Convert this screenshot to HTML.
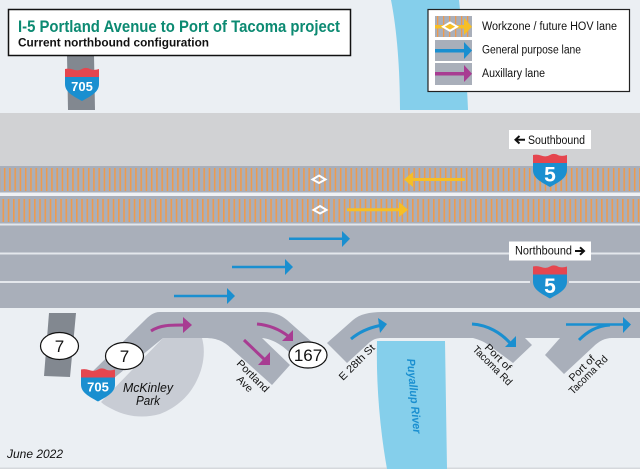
<!DOCTYPE html>
<html><head><meta charset="utf-8"><style>
html,body{margin:0;padding:0;background:#ebeff3}
svg{display:block}
text{font-family:"Liberation Sans",sans-serif;fill:#111}
</style></head><body>
<svg width="640" height="469" viewBox="0 0 640 469" xmlns="http://www.w3.org/2000/svg">
<defs>
<pattern id="s1" x="3.900" y="0" width="5.25" height="30" patternUnits="userSpaceOnUse"><rect width="1.6" height="30" fill="#ee9a4d"/></pattern>
<pattern id="s2" x="2.500" y="0" width="5.25" height="30" patternUnits="userSpaceOnUse"><rect width="1.6" height="30" fill="#ee9a4d"/></pattern>
<g id="sh">
<path d="M-17,-13 Q-13,-14 -9,-12.500 Q-4,-10.500 0,-13 Q4,-15.500 9,-12.500 Q13,-11.500 17,-13 L17,-5 L-17,-5Z" fill="#e5464f"/>
<path d="M-17,-5 L17,-5 L17,2 C17,10 9,14 0,19 C-9,14 -17,10 -17,2Z" fill="#1a8fd0"/>
</g>
</defs>
<rect width="640" height="469" fill="#ebeff3"/>
<rect y="467.500" width="640" height="1.500" fill="#d5d8dc"/>
<!-- rivers -->
<path d="M391,0 L459,0 C462,30 467,75 468,110 L400,110 C400,70 397,30 391,0Z" fill="#85cfeb"/>
<path d="M377,341 L445,341 L447,469 L387,469 C380,430 376,385 377,341Z" fill="#85cfeb"/>
<!-- 705 top -->
<path d="M67,55 L94,55 L95,110 L68,110Z" fill="#828890"/>
<!-- median -->
<rect y="113" width="640" height="53" fill="#d1d2d4"/>
<!-- lanes -->
<rect y="166" width="640" height="142" fill="#a9afba"/>
<rect y="168" width="640" height="23" fill="url(#s1)"/>
<rect y="199" width="640" height="23" fill="url(#s2)"/>
<rect y="192.500" width="640" height="3.500" fill="#eff1f4"/>
<rect y="223.500" width="640" height="2" fill="#e4e7ec"/>
<rect y="252.500" width="640" height="2" fill="#e4e7ec"/>
<rect y="281" width="530" height="2" fill="#e4e7ec"/>
<rect x="569" y="281" width="71" height="2" fill="#e4e7ec"/>
<!-- park -->
<path d="M163,338 L202,338 C206,352 203,368 197,380 C190,395 178,407 160,414 C142,419 125,416 112,409 C108,407 104,405 101,402Z" fill="#c8ccd4"/>
<!-- main ramp road: Portland Ave, SR167, McKinley -->
<path d="M160,312 L263,312 C274,312 281,315 287,320 L313,343 L308,355 L289,352 C283,346 273,339 262,338 L290,365 L272,385 L233,350 C225,342 218,338 205,338 L163,338 L103,387 L92,372 L143,322 C149,316 153,312 160,312Z" fill="#a9afba"/>
<!-- E 28th + through road -->
<path d="M640,312 L383,312 C370,312 360,314 353,320 L327,343 L347,363 L370,342 C374,339 377,338 382,338 L473,338 C480,340 485,342 490,346 L513,363 L532,345 L525,338 L560,338 L545,355 L564,374 L593,347 C599,341 605,338 612,338 L640,338Z" fill="#a9afba"/>
<!-- SR7 left -->
<path d="M49,313 L76,313 L70,377 L44,376Z" fill="#828890"/>
<!-- arrows -->
<g fill="none" stroke-width="2.500">
<path d="M174,296 L227,296" stroke="#1a8fd0"/>
<path d="M232,267 L285,267" stroke="#1a8fd0"/>
<path d="M289,238.700 L342,238.700" stroke="#1a8fd0"/>
<path d="M347,209.700 L400,209.700" stroke="#f6bf26" stroke-width="3"/>
<path d="M465,179.500 L412,179.500" stroke="#f6bf26" stroke-width="3"/>
<path d="M151,331 C160,325 170,325 184,325" stroke="#a83c92" stroke-width="3"/>
<path d="M257,324 C268,325 279,329 288,336" stroke="#a83c92" stroke-width="3"/>
<path d="M244,340 L265,360" stroke="#a83c92" stroke-width="3"/>
<path d="M351,339 C358,333 368,328 380,325.500" stroke="#1a8fd0" stroke-width="3"/>
<path d="M472,324 C488,325 501,333 510,343" stroke="#1a8fd0" stroke-width="3"/>
<path d="M566,324.500 L624,324.500" stroke="#1a8fd0" stroke-width="2.500"/>
<path d="M579,340 C587,332 596,326 610,325" stroke="#1a8fd0" stroke-width="3"/>
</g>
<path d="M227,288 L235,296 L227,304Z" fill="#1a8fd0"/>
<path d="M285,259 L293,267 L285,275Z" fill="#1a8fd0"/>
<path d="M342,231 L350,238.700 L342,247Z" fill="#1a8fd0"/>
<path d="M399,202 L408,209.700 L399,217Z" fill="#f6bf26"/>
<path d="M413,172 L404,179.500 L413,187Z" fill="#f6bf26"/>
<path d="M183,317 L192,325 L183,333Z" fill="#a83c92"/>
<path d="M293,330 L293,341 L282,341Z" fill="#a83c92"/>
<path d="M270,352 L270,365 L258,365Z" fill="#a83c92"/>
<path d="M378,318 L387,324 L380,333Z" fill="#1a8fd0"/>
<path d="M516,336 L516,347 L505,347Z" fill="#1a8fd0"/>
<path d="M623,317 L631,324.500 L623,333Z" fill="#1a8fd0"/>
<!-- diamonds -->
<path d="M319,175.500 L325.500,179.500 L319,183 L312.500,179.500Z" fill="none" stroke="#fff" stroke-width="2"/>
<path d="M320,206 L326.500,210 L320,213.500 L313.500,210Z" fill="none" stroke="#fff" stroke-width="2"/>
<!-- title -->
<rect x="8.500" y="9.500" width="342" height="46" fill="#fff" stroke="#111" stroke-width="1.500"/>
<text x="18" y="32" font-size="16.500" font-weight="bold" style="fill:#0c8a72" textLength="322" lengthAdjust="spacingAndGlyphs">I-5 Portland Avenue to Port of Tacoma project</text>
<text x="18" y="46.500" font-size="12" font-weight="bold" textLength="191" lengthAdjust="spacingAndGlyphs">Current northbound configuration</text>
<!-- legend -->
<rect x="428" y="9.500" width="201.500" height="82" fill="#fff" stroke="#222" stroke-width="1.200"/>
<rect x="435" y="16" width="37" height="21" fill="#a9afba"/>
<g fill="#ee9a4d"><rect x="437" y="16" width="1.300" height="21"/><rect x="443" y="16" width="1.300" height="21"/><rect x="449" y="16" width="1.300" height="21"/><rect x="455" y="16" width="1.300" height="21"/><rect x="461" y="16" width="1.300" height="21"/><rect x="467" y="16" width="1.300" height="21"/></g>
<rect x="435" y="25" width="30" height="3.500" fill="#f6bf26"/><path d="M464,18 L472,26.700 L464,35Z" fill="#f6bf26"/>
<path d="M450,22.500 L457,26.700 L450,30.800 L443,26.700Z" fill="#f6bf26" stroke="#fff" stroke-width="2"/>
<rect x="435" y="40" width="37" height="21" fill="#a9afba"/>
<rect x="435" y="49" width="30" height="3.500" fill="#1a8fd0"/><path d="M464,42 L472,50.500 L464,59Z" fill="#1a8fd0"/>
<rect x="435" y="63" width="37" height="22" fill="#a9afba"/>
<rect x="435" y="72" width="30" height="3.500" fill="#a83c92"/><path d="M464,65 L472,73.700 L464,82Z" fill="#a83c92"/>
<text x="482" y="30" font-size="11.500" textLength="135" lengthAdjust="spacingAndGlyphs">Workzone / future HOV lane</text>
<text x="482" y="53.500" font-size="11.500" textLength="99" lengthAdjust="spacingAndGlyphs">General purpose lane</text>
<text x="482" y="77" font-size="11.500" textLength="63" lengthAdjust="spacingAndGlyphs">Auxillary lane</text>
<!-- direction labels -->
<rect x="509" y="130" width="82" height="19" fill="#fff"/>
<path d="M516,139.700 L525,139.700 M519.500,136 L515.500,139.700 L519.500,143.500" fill="none" stroke="#111" stroke-width="2"/>
<text x="528" y="144" font-size="11.500" textLength="57" lengthAdjust="spacingAndGlyphs">Southbound</text>
<rect x="509" y="241.500" width="82" height="19" fill="#fff"/>
<text x="515" y="254.500" font-size="11.500" textLength="57" lengthAdjust="spacingAndGlyphs">Northbound</text>
<path d="M575,251 L584,251 M580,247.300 L584,251 L580,254.800" fill="none" stroke="#111" stroke-width="2"/>
<!-- shields -->
<use href="#sh" x="82" y="82"/>
<use href="#sh" x="550" y="168"/>
<use href="#sh" x="550" y="279.500"/>
<use href="#sh" x="98" y="382.500"/>
<g font-weight="bold" text-anchor="middle">
<text x="82" y="91" style="fill:#fff;font-size:13px">705</text>
<text x="98" y="391.500" style="fill:#fff;font-size:13px">705</text>
<text x="550" y="181.500" style="fill:#fff;font-size:21px">5</text>
<text x="550" y="293" style="fill:#fff;font-size:21px">5</text>
</g>
<!-- ovals -->
<g fill="#fff" stroke="#111" stroke-width="1.200">
<ellipse cx="59.500" cy="346" rx="19" ry="13.500"/>
<ellipse cx="124.500" cy="356" rx="19" ry="13.500"/>
<ellipse cx="308" cy="355" rx="19" ry="13"/>
</g>
<g text-anchor="middle" font-size="17">
<text x="59.500" y="352">7</text>
<text x="124.500" y="362">7</text>
<text x="308" y="361">167</text>
</g>
<!-- labels -->
<g font-size="13" font-style="italic" text-anchor="middle">
<text x="148" y="392" textLength="50" lengthAdjust="spacingAndGlyphs">McKinley</text>
<text x="148" y="405" textLength="24" lengthAdjust="spacingAndGlyphs">Park</text>
</g>
<g font-size="10.500">
<text transform="translate(236,364) rotate(45)" textLength="41" lengthAdjust="spacingAndGlyphs">Portland</text>
<text transform="translate(236,380) rotate(45)" textLength="18" lengthAdjust="spacingAndGlyphs">Ave</text>
<text transform="translate(343,381) rotate(-45)" textLength="46" lengthAdjust="spacingAndGlyphs">E 28th St</text>
<text transform="translate(484,348) rotate(45)" textLength="33" lengthAdjust="spacingAndGlyphs">Port of</text>
<text transform="translate(472,350) rotate(45)" textLength="51" lengthAdjust="spacingAndGlyphs">Tacoma Rd</text>
<text transform="translate(573,382) rotate(-45)" textLength="32" lengthAdjust="spacingAndGlyphs">Port of</text>
<text transform="translate(573,395) rotate(-45)" textLength="50" lengthAdjust="spacingAndGlyphs">Tacoma Rd</text>
</g>
<text transform="translate(407,359) rotate(85)" font-size="11.500" font-weight="bold" font-style="italic" style="fill:#1a8fd0" textLength="75" lengthAdjust="spacingAndGlyphs">Puyallup River</text>
<text x="7" y="458" font-size="11.500" font-style="italic" textLength="56" lengthAdjust="spacingAndGlyphs">June 2022</text>
</svg>
</body></html>
